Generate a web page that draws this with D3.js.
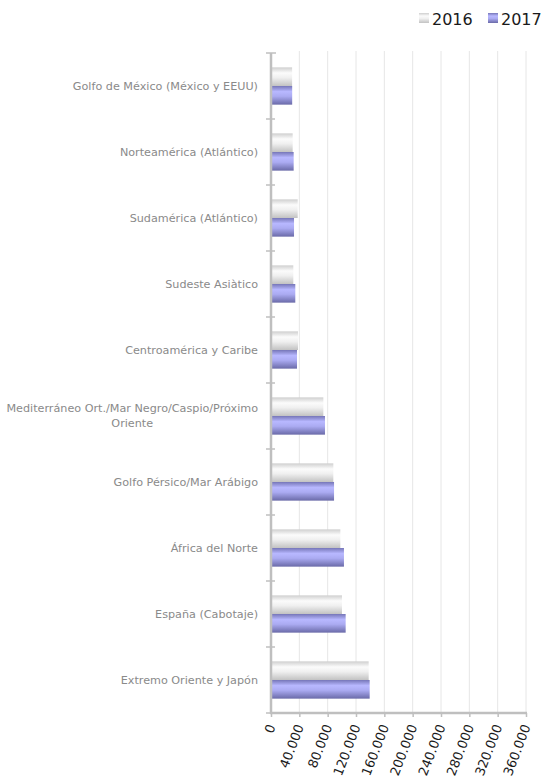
<!DOCTYPE html>
<html>
<head>
<meta charset="utf-8">
<script src="https://cdn.jsdelivr.net/npm/d3@7"></script>
<style>
  body { margin: 0; background: #fff; }
  svg { display: block; }
</style>
</head>
<body>
<div id="chart"></div>
<script>
'use strict';

// categories listed top to bottom
const categories = [
  "Golfo de México (México y EEUU)",
  "Norteamérica (Atlántico)",
  "Sudamérica (Atlántico)",
  "Sudeste Asiàtico",
  "Centroamérica y Caribe",
  "Mediterráneo Ort./Mar Negro/Caspio/Próximo Oriente",
  "Golfo Pérsico/Mar Arábigo",
  "África del Norte",
  "España (Cabotaje)",
  "Extremo Oriente y Japón"
];
const seriesNames = ["2016", "2017"];
const values2016 = [29800, 30600, 37700, 31500, 38100, 73900, 88000, 97900, 100200, 137900];
const values2017 = [29900, 32000, 32500, 34300, 36700, 76200, 89000, 103000, 105400, 139300];
const xTicks = [0, 40000, 80000, 120000, 160000, 200000, 240000, 280000, 320000, 360000];

(function() {

  let svgContainer = "";
  const labelFont = '"DejaVu Sans", Verdana, sans-serif';
  const labelSize = '11.2px';

  window.onload = function() {
    svgContainer = d3.select('#chart')
      .append('svg')
      .attr('width', 541)
      .attr('height', 781);
    makeGradients();
    makeChart();
    makeLegend();
  }

  // bar fills: shaded vertical gradients
  function makeGradients() {
    let defs = svgContainer.append('defs');
    let stops = {
      g2016: [["0%", "#cfcfcf"], ["30%", "#fbfbfb"], ["55%", "#f0f0f0"], ["100%", "#c2c2c2"]],
      g2017: [["0%", "#7676b8"], ["30%", "#b8b8ff"], ["55%", "#ababf2"], ["100%", "#6a6aa8"]]
    };
    Object.keys(stops).forEach((id) => {
      let grad = defs.append('linearGradient')
        .attr('id', id)
        .attr('x1', 0).attr('y1', 0)
        .attr('x2', 0).attr('y2', 1);
      stops[id].forEach((s) => {
        grad.append('stop')
          .attr('offset', s[0])
          .attr('stop-color', s[1]);
      });
    });
  }

  function makeChart() {
    let xScale = d3.scaleLinear()
      .domain([0, 360000])
      .range([271, 526]);

    let yScale = d3.scaleBand()
      .domain(categories)
      .range([53, 713])
      .padding(0);

    let ySub = d3.scaleBand()
      .domain(seriesNames)
      .range([0, yScale.bandwidth()])
      .paddingInner(0)
      .paddingOuter(0.77);

    let locale = d3.formatLocale({ decimal: ",", thousands: ".", grouping: [3], currency: ["", "€"] });
    let fmt = locale.format(",");

    // vertical gridlines
    svgContainer.append('g')
      .selectAll('line')
      .data(xTicks.slice(1))
      .enter()
      .append('line')
        .attr('x1', (d) => xScale(d))
        .attr('x2', (d) => xScale(d))
        .attr('y1', 51)
        .attr('y2', 713)
        .attr('stroke', '#e6e6e6')
        .attr('stroke-width', 1);

    // bars
    let rows = categories.map((c, i) => ({ cat: c, v: [values2016[i], values2017[i]] }));
    let groups = svgContainer.append('g')
      .selectAll('g')
      .data(rows)
      .enter()
      .append('g')
        .attr('transform', (d) => 'translate(0,' + yScale(d.cat) + ')');

    groups.selectAll('rect')
      .data((d) => seriesNames.map((s, j) => ({ key: s, value: d.v[j] })))
      .enter()
      .append('rect')
        .attr('x', xScale(0))
        .attr('y', (d) => ySub(d.key))
        .attr('width', (d) => xScale(d.value) - xScale(0))
        .attr('height', ySub.bandwidth())
        .attr('fill', (d) => 'url(#g' + d.key + ')');

    // bottom axis
    let xAxis = d3.axisBottom(xScale)
      .tickValues(xTicks)
      .tickFormat(fmt)
      .tickSize(4)
      .tickSizeOuter(0);
    let xg = svgContainer.append('g')
      .attr('transform', 'translate(0, 713)')
      .call(xAxis);
    xg.select('.domain')
      .attr('stroke', '#bfbfbf')
      .attr('stroke-width', 2.5)
      .attr('d', 'M' + (xScale(0) - 1) + ',0H' + (xScale(360000) + 1));
    xg.selectAll('.tick line')
      .attr('stroke', '#bfbfbf')
      .attr('stroke-width', 1.5);
    xg.selectAll('.tick text')
      .attr('fill', '#1a1a1a')
      .style('font-family', labelFont)
      .style('font-size', '13px')
      .attr('text-anchor', 'end')
      .attr('dy', '0.35em')
      .attr('transform', 'translate(0, 12) rotate(-69)')
      .attr('x', 0)
      .attr('y', 0);

    // left axis: line with ticks at category boundaries
    let yAxisG = svgContainer.append('g');
    yAxisG.append('line')
      .attr('x1', 271).attr('x2', 271)
      .attr('y1', 53).attr('y2', 714)
      .attr('stroke', '#bfbfbf')
      .attr('stroke-width', 2.5);
    let bounds = categories.map((c) => yScale(c)).concat([yScale.range()[1]]);
    yAxisG.selectAll('.ytick')
      .data(bounds)
      .enter()
      .append('line')
        .attr('class', 'ytick')
        .attr('x1', 266)
        .attr('x2', (d, i) => i === 0 ? 276 : 275)
        .attr('y1', (d) => d)
        .attr('y2', (d) => d)
        .attr('stroke', '#bfbfbf')
        .attr('stroke-width', 1.5);

    // category labels, wrapped when too long
    let labels = svgContainer.append('g')
      .style('font-family', labelFont)
      .style('font-size', labelSize)
      .attr('fill', '#8a8a8a');

    categories.forEach((c) => {
      let lines = wrapLabel(c, 262);
      let cy = yScale(c) + yScale.bandwidth() / 2;
      let lineH = 15;
      let t = labels.append('text')
        .attr('y', cy - (lines.length - 1) * lineH / 2);
      lines.forEach((ln, k) => {
        t.append('tspan')
          .attr('dy', k === 0 ? '0.35em' : lineH)
          .text(ln);
      });
      let w = d3.max(t.selectAll('tspan').nodes(), (n) => n.getComputedTextLength());
      let center = 258 - w / 2;
      t.attr('text-anchor', 'middle');
      t.selectAll('tspan').attr('x', center);
    });
  }

  // split a label into lines that fit the given width
  function wrapLabel(text, maxWidth) {
    let probe = svgContainer.append('text')
      .style('font-family', labelFont)
      .style('font-size', labelSize);
    let words = text.split(' ');
    let lines = [];
    let current = "";
    words.forEach((w) => {
      let attempt = current ? current + ' ' + w : w;
      probe.text(attempt);
      if (probe.node().getComputedTextLength() > maxWidth && current) {
        lines.push(current);
        current = w;
      } else {
        current = attempt;
      }
    });
    lines.push(current);
    probe.remove();
    return lines;
  }

  function makeLegend() {
    let legend = svgContainer.append('g')
      .style('font-family', labelFont)
      .style('font-size', '16px')
      .attr('fill', '#1a1a1a');
    let items = [
      { key: "2016", x: 419 },
      { key: "2017", x: 488 }
    ];
    items.forEach((it) => {
      legend.append('rect')
        .attr('x', it.x)
        .attr('y', 13)
        .attr('width', 10)
        .attr('height', 10)
        .attr('fill', 'url(#g' + it.key + ')');
      legend.append('text')
        .attr('x', it.x + 13)
        .attr('y', 25)
        .text(it.key);
    });
  }

})();
</script>
</body>
</html>
